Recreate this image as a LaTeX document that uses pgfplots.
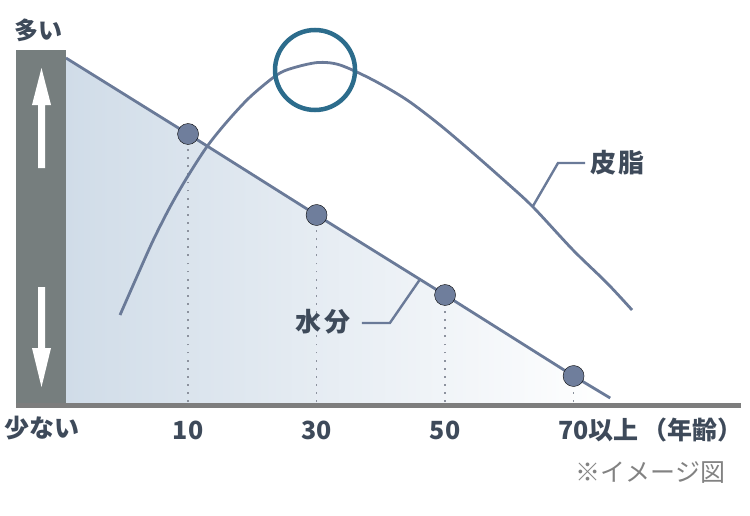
\documentclass[border=0pt]{standalone}
\usepackage{pgfplots}
\pgfplotsset{compat=1.18}
\usepackage{fontspec}
\setmainfont{Noto Sans CJK JP}
\newfontfamily\jp{Noto Sans CJK JP}
\definecolor{curvec}{RGB}{106,122,152}
\definecolor{dotc}{RGB}{111,126,156}
\definecolor{circc}{RGB}{44,108,140}
\definecolor{barc}{RGB}{118,126,126}
\definecolor{axc}{RGB}{125,125,125}
\definecolor{txtc}{RGB}{62,74,90}
\definecolor{fillc}{RGB}{208,220,232}
\definecolor{dotl}{RGB}{140,146,158}
\definecolor{notec}{RGB}{130,130,130}
\begin{document}
\begin{tikzpicture}
\begin{axis}[
  x=6.425pt, y=1pt,
  xmin=-16.78, xmax=96.06, ymin=0, ymax=355,
  axis x line=bottom, axis y line=none,
  axis line style={-, line width=5pt, color=axc},
  axis on top,
  xtick={10,30,50,70},
  xticklabels={10,30,50,{70\rlap{以上\,（年齢）}}},
  major tick length=0pt,
  xticklabel style={font=\jp\bfseries\fontsize{25}{28}\selectfont, text=txtc, anchor=center, yshift=-25pt},
  clip=false,
]
% bounding box of the whole picture
\path (axis cs:-19.27,-110) rectangle (axis cs:97.46,405);
% gradient area under water line
\addplot[draw=none, left color=fillc, right color=white] coordinates {(-9,0) (-9,347) (75.7,7) (75.7,0)} -- cycle;
% dotted drops
\addplot[dotl, line width=1.8pt, dash pattern=on 1.8pt off 6.3pt] coordinates {(10,3) (10,271)};
\addplot[dotl, line width=1.8pt, dash pattern=on 1.8pt off 6.3pt] coordinates {(30,3) (30,190)};
\addplot[dotl, line width=1.8pt, dash pattern=on 1.8pt off 6.3pt] coordinates {(50,3) (50,110)};
\addplot[dotl, line width=1.8pt, dash pattern=on 1.8pt off 6.3pt] coordinates {(70,3) (70,29)};
% water line
\addplot[curvec, line width=2.8pt] coordinates {(-9,347) (10,271) (30,190) (50,110) (70,29) (75.7,7)};
% sebum curve
\addplot[curvec, line width=2.8pt, smooth, tension=0.5] coordinates {
(-0.59,90) (2.01,128) (4.59,165) (7.19,198) (9.79,227) (12.90,258) (16.02,283)
(19.64,308) (23.80,330) (26.3,337) (30.2,342.5) (33.65,340) (38.79,325) (44.08,305) (49.21,280)
(54.35,252) (59.64,222) (63.69,198) (69.91,155) (75.2,122) (79.1,95)};
% dots
\addplot[only marks, mark=*, mark size=10.5pt, mark options={fill=dotc, draw=none}] coordinates {(10,271) (30,190) (50,110) (70,29)};
% circle
\draw[circc, line width=4.5pt] (axis cs:29.76,335) circle[radius=40pt];
% left bar
\fill[barc] (axis cs:-16.78,0) rectangle (axis cs:-8.92,355);
\fill[white] (axis cs:-13.35,237) -- (axis cs:-13.35,300) -- (axis cs:-14.29,300) -- (axis cs:-12.81,337) -- (axis cs:-11.33,300) -- (axis cs:-12.26,300) -- (axis cs:-12.26,237) -- cycle;
\fill[white] (axis cs:-13.35,118) -- (axis cs:-13.35,57) -- (axis cs:-14.29,57) -- (axis cs:-12.81,18) -- (axis cs:-11.33,57) -- (axis cs:-12.26,57) -- (axis cs:-12.26,118) -- cycle;
% leaders
\draw[curvec, line width=2.4pt] (axis cs:37.05,82) -- (axis cs:41.41,82) -- (axis cs:46.08,125.5);
\draw[curvec, line width=2.4pt] (axis cs:71.78,242) -- (axis cs:67.58,242) -- (axis cs:63.69,199);
% texts
\node[font=\jp\bfseries\fontsize{24}{26}\selectfont, text=txtc] at (axis cs:-13.2,375) {多い};
\node[font=\jp\bfseries\fontsize{25}{26}\selectfont, text=txtc] at (axis cs:-12.73,-23) {少ない};
\node[font=\jp\bfseries\fontsize{26}{28}\selectfont, text=txtc] at (axis cs:31.0,83) {水\hspace{3pt}分};
\node[font=\jp\bfseries\fontsize{26}{28}\selectfont, text=txtc] at (axis cs:76.9,242) {皮\hspace{2pt}脂};
\node[font=\jp\fontsize{25}{28}\selectfont, text=notec] at (axis cs:82.0,-68) {※イメージ図};
\end{axis}
\end{tikzpicture}
\end{document}
